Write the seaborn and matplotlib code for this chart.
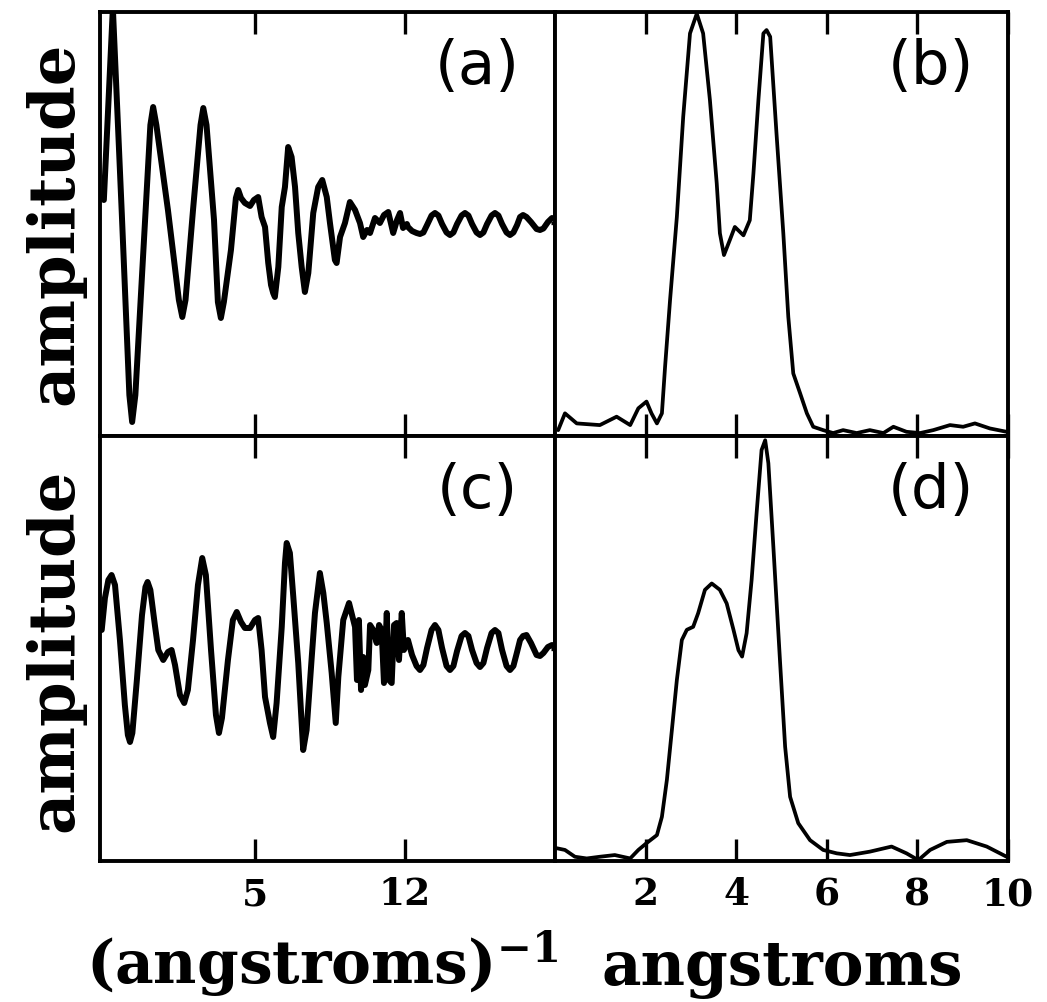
import matplotlib
matplotlib.use("Agg")
import matplotlib.pyplot as plt
import seaborn as sns
import pandas as pd

# ---------------- data ----------------
# left panels: wavenumber k (axis ticks "5" and "12"), amplitude (arb. units)
panel_a_main = [
    (-2.05, 0.23), (-1.63, 2.15), (-1.21, 0.08), (-0.86, -1.72), (-0.73, -1.99),
    (-0.58, -1.72), (-0.23, -0.37), (0.12, 0.98), (0.25, 1.16), (0.40, 0.98),
    (0.94, 0.13), (1.45, -0.77), (1.61, -0.94), (1.76, -0.77), (2.11, 0.13),
    (2.46, 0.98), (2.59, 1.15), (2.74, 0.98), (3.09, 0.03), (3.27, -0.79),
    (3.41, -0.95), (3.55, -0.79), (3.88, -0.27), (4.11, 0.25), (4.22, 0.33),
    (4.35, 0.25), (4.53, 0.20), (4.77, 0.17), (4.95, 0.23), (5.15, 0.26),
    (5.31, 0.06), (5.47, -0.04), (5.62, -0.40), (5.75, -0.62), (5.85, -0.70),
    (5.93, -0.74), (6.09, -0.44), (6.25, 0.16), (6.40, 0.36), (6.55, 0.76),
    (6.71, 0.66), (6.87, 0.36), (7.02, -0.10), (7.18, -0.44), (7.33, -0.69),
    (7.49, -0.50), (7.72, 0.10), (7.95, 0.36), (8.14, 0.43), (8.35, 0.26),
    (8.50, 0.00), (8.73, -0.37), (8.81, -0.40), (8.97, -0.14), (9.20, 0.00),
    (9.43, 0.21), (9.67, 0.13), (9.90, 0.00), (10.05, -0.14), (10.23, -0.07),
    (10.37, -0.10), (10.60, 0.05), (10.83, 0.00), (11.02, 0.08), (11.22, 0.11),
    (11.45, -0.10), (11.63, 0.03), (11.77, 0.10), (11.91, -0.05), (12.09, -0.01),
]
panel_c_main = [
    (-2.15, 0.20), (-2.00, 0.52), (-1.84, 0.70), (-1.69, 0.75), (-1.53, 0.65),
    (-1.30, 0.10), (-1.07, -0.55), (-0.93, -0.85), (-0.83, -0.92), (-0.72, -0.83),
    (-0.51, -0.30), (-0.27, 0.35), (-0.11, 0.63), (-0.01, 0.68), (0.12, 0.60),
    (0.33, 0.25), (0.49, 0.00), (0.72, -0.10), (0.94, -0.02), (1.11, 0.00),
    (1.27, -0.15), (1.50, -0.45), (1.70, -0.53), (1.87, -0.40), (2.11, 0.10),
    (2.34, 0.65), (2.54, 0.92), (2.71, 0.75), (2.95, 0.00), (3.18, -0.65),
    (3.32, -0.83), (3.46, -0.68), (3.74, -0.10), (3.97, 0.30), (4.15, 0.38),
    (4.35, 0.28), (4.53, 0.22), (4.77, 0.22), (5.00, 0.30), (5.15, 0.32),
    (5.31, 0.00), (5.47, -0.47), (5.70, -0.73), (5.85, -0.87), (6.01, -0.53),
    (6.25, 0.23), (6.40, 0.87), (6.48, 1.07), (6.63, 0.97), (6.79, 0.53),
    (7.02, -0.13), (7.25, -1.00), (7.41, -0.80), (7.65, -0.07), (7.80, 0.37),
    (8.03, 0.77), (8.19, 0.57), (8.35, 0.27), (8.58, -0.23), (8.77, -0.73),
    (8.89, -0.27), (9.12, 0.30), (9.39, 0.47), (9.67, 0.23), (9.76, -0.30),
    (9.85, 0.30), (9.95, -0.40), (10.05, -0.07), (10.13, -0.35), (10.29, -0.20),
    (10.37, 0.25), (10.52, 0.20), (10.68, 0.07), (10.79, 0.25), (10.91, 0.20),
    (11.02, -0.33), (11.15, 0.37), (11.25, -0.30), (11.38, -0.33), (11.49, 0.25),
    (11.61, 0.27), (11.72, -0.10), (11.85, 0.37), (11.95, 0.00),
]
tail_k = [12.14, 12.33, 12.54, 12.70, 12.86, 13.03, 13.24, 13.40, 13.56, 13.73,
          13.94, 14.10, 14.26, 14.43, 14.64, 14.80, 14.96, 15.13, 15.34, 15.50,
          15.66, 15.83, 16.04, 16.20, 16.36, 16.53, 16.74, 16.90, 17.06, 17.23,
          17.37, 17.51, 17.67, 17.88, 18.14, 18.30, 18.46, 18.67, 18.86]
tail_a = [-0.04, -0.08, -0.10, -0.11, -0.095, -0.02, 0.075, 0.10, 0.075, -0.01,
          -0.095, -0.12, -0.095, -0.01, 0.075, 0.10, 0.075, -0.01, -0.095, -0.12,
          -0.095, -0.01, 0.075, 0.10, 0.075, -0.01, -0.095, -0.12, -0.095, -0.02,
          0.06, 0.08, 0.06, 0.01, -0.06, -0.07, -0.055, 0.01, 0.05]
tail_c = [0.10, -0.05, -0.16, -0.20, -0.15, 0.02, 0.20, 0.25, 0.20, 0.02,
          -0.16, -0.20, -0.16, -0.01, 0.14, 0.17, 0.14, 0.00, -0.13, -0.17,
          -0.13, 0.02, 0.17, 0.20, 0.17, 0.00, -0.16, -0.20, -0.16, -0.02,
          0.10, 0.14, 0.15, 0.07, -0.05, -0.06, -0.03, 0.03, 0.05]

# right panels: distance r (angstroms), amplitude (normalised)
panel_b = [
    (0.07, 0.007), (0.22, 0.047), (0.48, 0.023), (0.99, 0.019), (1.36, 0.039),
    (1.66, 0.019), (1.84, 0.059), (2.02, 0.075), (2.13, 0.047), (2.25, 0.023),
    (2.36, 0.047), (2.43, 0.158), (2.54, 0.317), (2.69, 0.515), (2.83, 0.753),
    (2.98, 0.952), (3.13, 0.999), (3.27, 0.952), (3.42, 0.793), (3.57, 0.595),
    (3.64, 0.476), (3.73, 0.424), (3.86, 0.460), (3.97, 0.491), (4.16, 0.471),
    (4.30, 0.507), (4.38, 0.618), (4.49, 0.793), (4.60, 0.952), (4.67, 0.960),
    (4.75, 0.944), (4.89, 0.713), (5.04, 0.476), (5.15, 0.277), (5.26, 0.142),
    (5.41, 0.095), (5.56, 0.047), (5.70, 0.015), (5.92, 0.007), (6.14, 0.000),
    (6.36, 0.007), (6.66, 0.000), (6.95, 0.007), (7.25, 0.000), (7.47, 0.015),
    (7.76, 0.003), (8.06, 0.000), (8.35, 0.007), (8.72, 0.019), (9.01, 0.015),
    (9.27, 0.023), (9.60, 0.011), (9.97, 0.003),
]
panel_d = [
    (0.04, 0.030), (0.22, 0.026), (0.44, 0.010), (0.70, 0.006), (0.99, 0.010),
    (1.32, 0.014), (1.66, 0.006), (1.84, 0.026), (2.02, 0.042), (2.25, 0.061),
    (2.36, 0.104), (2.47, 0.191), (2.58, 0.308), (2.69, 0.426), (2.80, 0.520),
    (2.91, 0.544), (3.05, 0.551), (3.16, 0.583), (3.31, 0.638), (3.46, 0.653),
    (3.64, 0.638), (3.79, 0.606), (3.94, 0.544), (4.05, 0.496), (4.13, 0.481),
    (4.23, 0.536), (4.34, 0.661), (4.45, 0.818), (4.56, 0.967), (4.64, 0.990),
    (4.71, 0.936), (4.82, 0.740), (4.97, 0.465), (5.08, 0.269), (5.19, 0.151),
    (5.37, 0.089), (5.63, 0.049), (5.92, 0.026), (6.22, 0.018), (6.51, 0.014),
    (6.95, 0.022), (7.43, 0.034), (7.76, 0.018), (8.02, 0.002), (8.28, 0.026),
    (8.65, 0.045), (9.09, 0.049), (9.53, 0.034), (9.97, 0.010),
]

k_ticks = [5, 12]
r_ticks = [2, 4, 6, 8, 10]
panel_labels = ["(a)", "(b)", "(c)", "(d)"]
ylabel_text = "amplitude"
xlabel_left = r"(angstroms)$^{\mathbf{-1}}$"
xlabel_right = "angstroms"

# ---------------- frames ----------------
df_a = pd.DataFrame(panel_a_main + list(zip(tail_k, tail_a)), columns=["k", "amp"])
df_c = pd.DataFrame(panel_c_main + list(zip(tail_k, tail_c)), columns=["k", "amp"])
df_b = pd.DataFrame(panel_b, columns=["r", "amp"])
df_d = pd.DataFrame(panel_d, columns=["r", "amp"])

sns.set_theme(style="white")
plt.rcParams["font.family"] = ["DejaVu Serif", "DejaVu Sans"]
plt.rcParams["mathtext.fontset"] = "dejavuserif"
plt.rcParams["text.color"] = "black"
plt.rcParams["axes.labelcolor"] = "black"
plt.rcParams["xtick.color"] = "black"
plt.rcParams["ytick.color"] = "black"

W, H = 1047, 1002
fig = plt.figure(figsize=(W / 100, H / 100), dpi=100)
fig.patch.set_facecolor("white")

def rect(x0, y0, x1, y1):
    return [x0 / W, 1 - y1 / H, (x1 - x0) / W, (y1 - y0) / H]

ax_a = fig.add_axes(rect(100, 12, 555, 436))
ax_b = fig.add_axes(rect(555, 12, 1008, 436))
ax_c = fig.add_axes(rect(100, 436, 555, 861))
ax_d = fig.add_axes(rect(555, 436, 1008, 861))

sns.lineplot(data=df_a, x="k", y="amp", ax=ax_a, color="black", linewidth=4.3,
             estimator=None, sort=False)
sns.lineplot(data=df_c, x="k", y="amp", ax=ax_c, color="black", linewidth=4.3,
             estimator=None, sort=False)
sns.lineplot(data=df_b, x="r", y="amp", ax=ax_b, color="black", linewidth=2.7,
             estimator=None, sort=False)
sns.lineplot(data=df_d, x="r", y="amp", ax=ax_d, color="black", linewidth=2.7,
             estimator=None, sort=False)

ax_a.set_ylim(-2.13, 2.11)
ax_c.set_ylim(-2.11, 2.14)
ax_b.set_ylim(-0.007, 1.003)
ax_d.set_ylim(0.0, 1.0)
for ax in (ax_a, ax_c):
    ax.set_xlim(-2.23, 19.0)
    ax.set_xticks(k_ticks)
    ax.set_yticks([])
for ax in (ax_b, ax_d):
    ax.set_xlim(0, 10)
    ax.set_xticks(r_ticks)
    ax.set_yticks([0.5])
    ax.tick_params(axis="y", direction="out", length=3, width=2.4, left=True,
                   labelleft=False)

for ax, lab in zip((ax_a, ax_b, ax_c, ax_d), panel_labels):
    ax.set_facecolor("white")
    for s in ax.spines.values():
        s.set_visible(True)
        s.set_color("black")
        s.set_linewidth(2.8)
    ax.tick_params(axis="x", which="both", direction="in", top=True, bottom=True,
                   length=15.5, width=2.4, color="black", pad=11,
                   labelsize=27, labelcolor="black")
    ax.set_xlabel("")
    ax.set_ylabel("")
    ax.text(0.83, 0.87, lab, transform=ax.transAxes, ha="center", va="center",
            fontsize=44, family="DejaVu Sans", color="black")

for ax in (ax_a, ax_b):
    ax.tick_params(axis="x", labelbottom=False)
for ax in (ax_c, ax_d):
    for t in ax.get_xticklabels():
        t.set_fontweight("bold")

# axis titles placed as figure text so both x titles share one baseline
base_y = 1 - 985 / H
fig.text(322 / W, base_y, xlabel_left, ha="center", va="baseline",
         fontsize=43, fontweight="bold", color="black")
fig.text(782 / W, base_y, xlabel_right, ha="center", va="baseline",
         fontsize=44, fontweight="bold", color="black")
fig.text(55 / W, 1 - 223 / H, ylabel_text, rotation=90, ha="center", va="center",
         fontsize=46, fontweight="bold", color="black")
fig.text(55 / W, 1 - 650 / H, ylabel_text, rotation=90, ha="center", va="center",
         fontsize=46, fontweight="bold", color="black")

fig.savefig("out.png", dpi=100, facecolor="white")
